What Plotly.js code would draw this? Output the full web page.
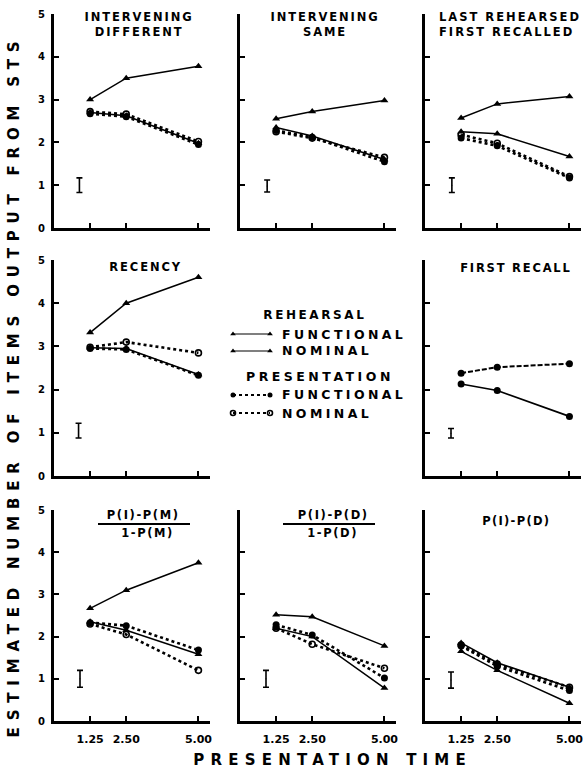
<!DOCTYPE html>
<html><head><meta charset="utf-8">
<script src="https://cdn.plot.ly/plotly-3.0.1.min.js"></script>
<style>html,body{margin:0;padding:0;background:#fff;} #chart{width:585px;height:771px;}</style>
</head><body><div id="chart"></div>
<script>
// ---------- data ----------
const times = [1.25, 2.5, 5.0];
const xTickVals = [1.25, 2.5, 5.0];
const xTickText = ['1.25', '2.50', '5.00'];
const yTickVals = [0, 1, 2, 3, 4, 5];
const yTickText = ['0', '1', '2', '3', '4', '5'];

const panelTitles = ['INTERVENING<br>DIFFERENT', 'INTERVENING<br>SAME', 'LAST REHEARSED<br>FIRST RECALLED',
  'RECENCY', 'FIRST RECALL', 'P(I)-P(M)', 'P(I)-P(D)', 'P(I)-P(D)'];
const panelDenoms = ['', '', '', '', '', '1-P(M)', '1-P(D)', ''];

// Intervening different
const intDiffRehFunc = [3.0, 3.5, 3.78];
const intDiffRehNom = [2.7, 2.62, 1.98];
const intDiffPresFunc = [2.67, 2.6, 1.95];
const intDiffPresNom = [2.72, 2.66, 2.02];
// Intervening same
const intSameRehFunc = [2.55, 2.72, 2.98];
const intSameRehNom = [2.35, 2.15, 1.6];
const intSamePresFunc = [2.28, 2.12, 1.55];
const intSamePresNom = [2.25, 2.1, 1.65];
// Last rehearsed first recalled
const lastRehRehFunc = [2.57, 2.9, 3.07];
const lastRehRehNom = [2.25, 2.2, 1.67];
const lastRehPresFunc = [2.1, 1.92, 1.17];
const lastRehPresNom = [2.18, 1.98, 1.2];
// Recency
const recRehFunc = [3.32, 4.0, 4.6];
const recRehNom = [2.97, 2.95, 2.35];
const recPresFunc = [2.95, 2.93, 2.33];
const recPresNom = [2.98, 3.1, 2.85];
// First recall
const firstRecUpper = [2.38, 2.52, 2.6];
const firstRecLower = [2.13, 1.98, 1.38];
// P(I)-P(M) / 1-P(M)
const pimRehFunc = [2.67, 3.1, 3.75];
const pimRehNom = [2.35, 2.15, 1.58];
const pimPresFunc = [2.33, 2.26, 1.68];
const pimPresNom = [2.3, 2.05, 1.2];
// P(I)-P(D) / 1-P(D)
const pidRehFunc = [2.52, 2.47, 1.78];
const pidRehNom = [2.2, 2.0, 0.78];
const pidPresFunc = [2.28, 2.04, 1.02];
const pidPresNom = [2.2, 1.82, 1.25];
// P(I)-P(D)
const pdRehFunc = [1.85, 1.38, 0.8];
const pdRehNom = [1.65, 1.2, 0.42];
const pdPresFunc = [1.78, 1.3, 0.72];
const pdPresNom = [1.8, 1.35, 0.8];

// error-bar markers (one per panel)
const errX = [0.88, 0.94, 0.93, 0.85, 0.9, 0.9, 0.9, 0.9];
const errY = [1.0, 0.98, 1.0, 1.05, 0.99, 1.0, 1.0, 0.97];
const errHalf = [0.17, 0.14, 0.17, 0.17, 0.11, 0.2, 0.2, 0.19];

const legendHeads = ['REHEARSAL', 'PRESENTATION'];
const legendLabels = ['FUNCTIONAL', 'NOMINAL', 'FUNCTIONAL', 'NOMINAL'];
const axisTitleX = 'PRESENTATION TIME';
const axisTitleY = 'ESTIMATED NUMBER OF ITEMS OUTPUT FROM STS';

// ---------- layout geometry ----------
const W = 585, H = 771;
const px = v => v / W;
const py = v => 1 - v / H;
const colDom = [[54, 210], [240, 396], [425, 581]];
const rowDom = [[14, 228], [260, 476], [510, 721]];
// panel -> [col,row]
const panelPos = [[0,0],[1,0],[2,0],[0,1],[2,1],[0,2],[1,2],[2,2]];

const FONT = 'DejaVu Sans';
const styles = {
  RF: {line: {color: '#000', width: 1.5}, marker: {symbol: 'triangle-up', size: 7, color: '#000'}},
  RN: {line: {color: '#000', width: 1.5}, marker: {symbol: 'triangle-up', size: 7, color: '#000'}},
  PF: {line: {color: '#000', width: 2.6, dash: 'dot'}, marker: {symbol: 'circle', size: 7, color: '#000'}},
  PN: {line: {color: '#000', width: 2.6, dash: 'dot'}, marker: {symbol: 'circle-open', size: 6, color: '#000', line: {width: 1.6, color: '#000'}}},
  FU: {line: {color: '#000', width: 2, dash: '5px,2px'}, marker: {symbol: 'circle', size: 7, color: '#000'}},
  FL: {line: {color: '#000', width: 1.7}, marker: {symbol: 'circle', size: 7, color: '#000'}}
};

const panelSeries = [
  [['PN', intDiffPresNom], ['PF', intDiffPresFunc], ['RN', intDiffRehNom], ['RF', intDiffRehFunc]],
  [['PN', intSamePresNom], ['PF', intSamePresFunc], ['RN', intSameRehNom], ['RF', intSameRehFunc]],
  [['PN', lastRehPresNom], ['PF', lastRehPresFunc], ['RN', lastRehRehNom], ['RF', lastRehRehFunc]],
  [['PN', recPresNom], ['PF', recPresFunc], ['RN', recRehNom], ['RF', recRehFunc]],
  [['FU', firstRecUpper], ['FL', firstRecLower]],
  [['PN', pimPresNom], ['PF', pimPresFunc], ['RN', pimRehNom], ['RF', pimRehFunc]],
  [['PN', pidPresNom], ['PF', pidPresFunc], ['RN', pidRehNom], ['RF', pidRehFunc]],
  [['PN', pdPresNom], ['PF', pdPresFunc], ['RN', pdRehNom], ['RF', pdRehFunc]]
];

const traces = [];
const layout = {
  width: W, height: H, margin: {l: 0, r: 0, t: 0, b: 0},
  paper_bgcolor: '#fff', plot_bgcolor: 'rgba(0,0,0,0)',
  showlegend: false, font: {family: FONT, color: '#000', size: 11, weight: 'bold'},
  annotations: [], shapes: []
};
const annLS = []; // letter spacing per annotation

function addAnn(a, ls) {
  layout.annotations.push(Object.assign({xref: 'paper', yref: 'paper', showarrow: false,
    font: {family: FONT, size: 11, color: '#000', weight: 'bold'}}, a));
  annLS.push(ls || 0);
}
const f = s => ({family: FONT, size: s, weight: 'bold', color: '#000'});

panelPos.forEach((pos, i) => {
  const n = i + 1;
  const xa = n === 1 ? 'xaxis' : 'xaxis' + n;
  const ya = n === 1 ? 'yaxis' : 'yaxis' + n;
  const xid = n === 1 ? 'x' : 'x' + n;
  const yid = n === 1 ? 'y' : 'y' + n;
  const [c, r] = pos;
  layout[xa] = {
    domain: [px(colDom[c][0]), px(colDom[c][1])], range: [0, 5.4], anchor: yid,
    showline: true, linewidth: 3, linecolor: '#000', showgrid: false, zeroline: false,
    ticks: 'inside', ticklen: 5, tickwidth: 2, tickcolor: '#000',
    tickmode: 'array', tickvals: xTickVals, ticktext: xTickText,
    showticklabels: r === 2, ticklabelstandoff: 6,
    tickfont: f(11), fixedrange: true
  };
  layout[ya] = {
    domain: [py(rowDom[r][1]), py(rowDom[r][0])], range: [0, 5], anchor: xid,
    showline: true, linewidth: 3, linecolor: '#000', showgrid: false, zeroline: false,
    ticks: 'inside', ticklen: 5, tickwidth: 2, tickcolor: '#000',
    tickmode: 'array', tickvals: yTickVals, ticktext: yTickText,
    showticklabels: c === 0, ticklabelstandoff: 4,
    tickfont: f(10), fixedrange: true
  };
  panelSeries[i].forEach(([key, vals]) => {
    const s = styles[key];
    traces.push({x: times, y: vals, xaxis: xid, yaxis: yid, type: 'scatter', mode: 'lines+markers',
      line: s.line, marker: s.marker, hoverinfo: 'skip', cliponaxis: false});
  });
  traces.push({x: [errX[i]], y: [errY[i]], xaxis: xid, yaxis: yid, type: 'scatter', mode: 'markers',
    marker: {size: 1, color: '#000'},
    error_y: {type: 'data', symmetric: true, array: [errHalf[i]], color: '#000', thickness: 1.6, width: 3},
    hoverinfo: 'skip'});
});

// panel titles
addAnn({x: px(139), y: py(25), text: panelTitles[0], xanchor: 'center', yanchor: 'middle', font: f(11.5)}, 1.9);
addAnn({x: px(325), y: py(25), text: panelTitles[1], xanchor: 'center', yanchor: 'middle', font: f(11.5)}, 1.9);
addAnn({x: px(437), y: py(25), text: panelTitles[2], xanchor: 'left', align: 'left', yanchor: 'middle', font: f(11.5)}, 2.0);
addAnn({x: px(146), y: py(267), text: panelTitles[3], xanchor: 'center', yanchor: 'middle', font: f(11.5)}, 1.9);
addAnn({x: px(516), y: py(268), text: panelTitles[4], xanchor: 'center', yanchor: 'middle', font: f(11.5)}, 1.8);
addAnn({x: px(143), y: py(515), text: panelTitles[5], xanchor: 'center', yanchor: 'middle', font: f(11.5)}, 1.6);
addAnn({x: px(147), y: py(533), text: panelDenoms[5], xanchor: 'center', yanchor: 'middle', font: f(11.5)}, 1.6);
addAnn({x: px(333), y: py(515), text: panelTitles[6], xanchor: 'center', yanchor: 'middle', font: f(11.5)}, 1.6);
addAnn({x: px(332), y: py(533), text: panelDenoms[6], xanchor: 'center', yanchor: 'middle', font: f(11.5)}, 1.6);
addAnn({x: px(516), y: py(521), text: panelTitles[7], xanchor: 'center', yanchor: 'middle', font: f(11.5)}, 1.3);
layout.shapes.push({type: 'line', xref: 'paper', yref: 'paper', x0: px(98), x1: px(190), y0: py(524), y1: py(524), line: {color: '#000', width: 1.8}});
layout.shapes.push({type: 'line', xref: 'paper', yref: 'paper', x0: px(283), x1: px(375), y0: py(524), y1: py(524), line: {color: '#000', width: 1.8}});

// legend
addAnn({x: px(315), y: py(315), text: legendHeads[0], xanchor: 'center', yanchor: 'middle', font: f(12)}, 2.6);
addAnn({x: px(320), y: py(376), text: legendHeads[1], xanchor: 'center', yanchor: 'middle', font: f(12.5)}, 3.5);
const legY = [334, 351, 395, 413];
const legKeys = ['RF', 'RN', 'PF', 'PN'];
legendLabels.forEach((lab, k) => {
  addAnn({x: px(280), y: py(legY[k]), text: lab, xanchor: 'left', align: 'left', yanchor: 'middle', font: f(12.5)}, 3.4);
});
layout.xaxis9 = {domain: [0, 1], range: [0, W], visible: false, fixedrange: true, anchor: 'y9'};
layout.yaxis9 = {domain: [0, 1], range: [H, 0], visible: false, fixedrange: true, anchor: 'x9'};
legKeys.forEach((key, k) => {
  const s = styles[key];
  const ln = Object.assign({}, s.line, {width: key[0] === 'P' ? 2 : 1.2});
  const mk = Object.assign({}, s.marker, {size: 5});
  traces.push({x: [233, 270], y: [legY[k], legY[k]], xaxis: 'x9', yaxis: 'y9', type: 'scatter', mode: 'lines+markers',
    line: ln, marker: mk, hoverinfo: 'skip'});
});

// axis titles
addAnn({x: px(332), y: py(760), text: axisTitleX, xanchor: 'center', yanchor: 'middle', font: f(15)}, 6.2);
addAnn({x: px(14), y: py(386), text: axisTitleY, textangle: -90, xanchor: 'center', yanchor: 'middle', font: f(15)}, 6.8);

// letter spacing css
let css = '';
annLS.forEach((ls, i) => { if (ls) css += `g.annotation[data-index="${i}"] text{letter-spacing:${ls}px;}\n`; });
const st = document.createElement('style'); st.textContent = css; document.head.appendChild(st);

Plotly.newPlot('chart', traces, layout, {staticPlot: true, displayModeBar: false});
</script>
</body></html>
